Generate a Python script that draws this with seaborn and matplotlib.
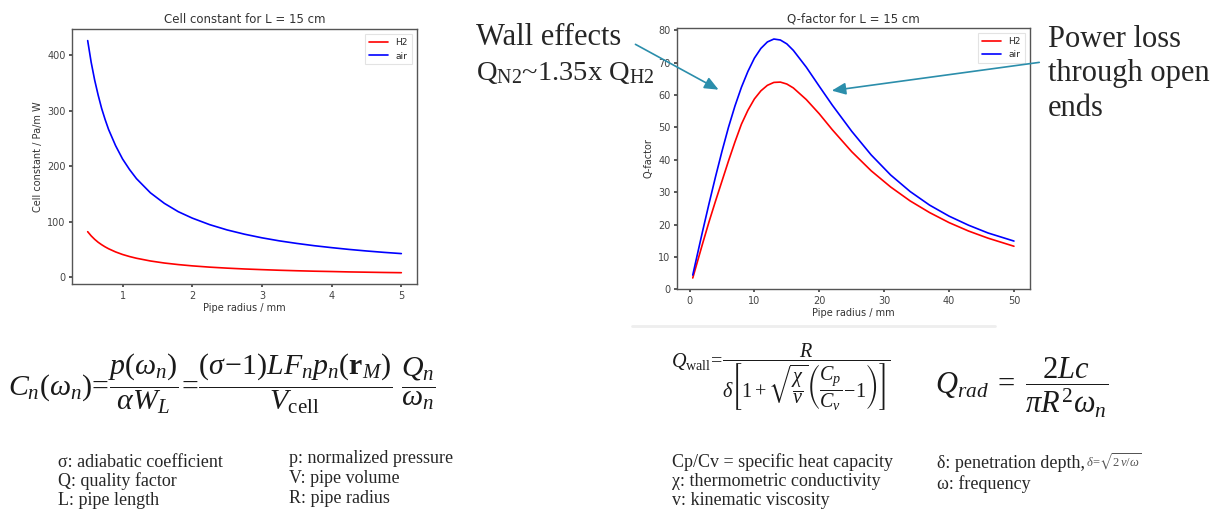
import matplotlib
matplotlib.use("Agg")
import matplotlib.pyplot as plt
import seaborn as sns

# ---------------------------------------------------------
# Values
# ---------------------------------------------------------

# left plot: cell constant vs pipe radius (mm)
radius_cell = [0.5, 0.55, 0.6, 0.65, 0.7, 0.75, 0.8, 0.9, 1.0, 1.1, 1.2, 1.4, 1.6, 1.8,
               2.0, 2.25, 2.5, 2.75, 3.0, 3.25, 3.5, 3.75, 4.0, 4.25, 4.5, 4.75, 5.0]
cell_h2 = [82, 74.5, 68.3, 63, 58.6, 54.7, 51.3, 45.6, 41, 37.3, 34.2, 29.3, 25.6, 22.8,
           20.5, 18.2, 16.4, 14.9, 13.7, 12.6, 11.7, 10.9, 10.3, 9.6, 9.1, 8.6, 8.2]
cell_air = [426, 387, 355, 328, 304, 284, 266, 237, 213, 194, 177.5, 152, 133, 118,
            106.5, 94.7, 85.2, 77.5, 71, 65.5, 60.9, 56.8, 53.3, 50.1, 47.3, 44.8, 42.6]

# right plot: Q-factor vs pipe radius (mm)
radius_q = [0.5, 1, 2, 3, 4, 5, 6, 7, 8, 9, 10, 11, 12, 13, 14, 15, 16, 18, 20,
            22, 25, 28, 31, 34, 37, 40, 43, 46, 50]
q_h2 = [3.5, 7.0, 14.0, 20.8, 27.2, 33.4, 39.6, 45.5, 51.0, 55.3, 58.8, 61.3, 63.0,
        63.9, 64.0, 63.4, 62.2, 58.6, 54.2, 49.3, 42.5, 36.6, 31.6, 27.3, 23.7,
        20.6, 18.0, 15.8, 13.3]
q_air = [4.4, 8.9, 17.8, 26.4, 34.7, 42.6, 50.0, 56.6, 62.4, 67.3, 71.4, 74.4, 76.4,
         77.3, 77.0, 75.8, 73.8, 68.6, 62.7, 56.9, 48.8, 41.5, 35.3, 30.2, 26.0,
         22.6, 19.8, 17.4, 14.9]

series_labels = ["H2", "air"]
series_colors = ["red", "blue"]

# ---------------------------------------------------------
# Style
# ---------------------------------------------------------

sns.set_theme(style="ticks")
plt.rcParams["font.family"] = ["DejaVu Sans"]
plt.rcParams["mathtext.fontset"] = "custom"
plt.rcParams["mathtext.rm"] = "Liberation Serif"
plt.rcParams["mathtext.it"] = "Liberation Serif:italic"
plt.rcParams["mathtext.bf"] = "Liberation Serif:bold"
plt.rcParams["mathtext.fallback"] = "stix"
plt.rcParams["axes.edgecolor"] = "#555555"
plt.rcParams["axes.linewidth"] = 1.0
plt.rcParams["xtick.color"] = "#444444"
plt.rcParams["ytick.color"] = "#444444"
plt.rcParams["xtick.major.size"] = 2.5
plt.rcParams["ytick.major.size"] = 2.5
plt.rcParams["xtick.labelsize"] = 7
plt.rcParams["ytick.labelsize"] = 7
plt.rcParams["axes.labelsize"] = 7
plt.rcParams["axes.labelcolor"] = "#333333"

W, H = 1227, 511
fig = plt.figure(figsize=(W / 100, H / 100), dpi=100)


def fx(px):
    return px / W


def fy(py):
    return 1 - py / H


def plot_panel(rect, x, ys, title, ylabel):
    ax = fig.add_axes(rect)
    for y, lab, col in zip(ys, series_labels, series_colors):
        sns.lineplot(x=x, y=y, color=col, label=lab, linewidth=1.2, ax=ax)
    ax.set_title(title, fontsize=8.5, color="#333333", pad=4)
    ax.set_xlabel("Pipe radius / mm", labelpad=2)
    ax.set_ylabel(ylabel, labelpad=3)
    ax.tick_params(pad=2)
    leg = ax.legend(loc="upper right", fontsize=6.5, frameon=True, fancybox=False,
                    borderaxespad=0.6, handlelength=2.2, labelspacing=0.5)
    leg.get_frame().set_edgecolor("#dddddd")
    leg.get_frame().set_linewidth(0.8)
    return ax


ax1 = plot_panel([fx(72), fy(284.3), fx(417) - fx(72), (284.3 - 29) / H],
                 radius_cell, [cell_h2, cell_air],
                 "Cell constant for L = 15 cm", "Cell constant / Pa/m W")
ax1.set_xticks([1, 2, 3, 4, 5])
ax1.set_yticks([0, 100, 200, 300, 400])

ax2 = plot_panel([fx(676.7), fy(289.3), fx(1030) - fx(676.7), (289.3 - 27.7) / H],
                 radius_q, [q_h2, q_air],
                 "Q-factor for L = 15 cm", "Q-factor")
ax2.set_ylim(0, 80.8)
ax2.set_xticks([0, 10, 20, 30, 40, 50])
ax2.set_yticks(range(0, 81, 10))

# faint separator under the right plot
fig.add_artist(plt.Line2D([fx(632), fx(995)], [fy(326), fy(326)],
                          color="#eeeeee", linewidth=2))

# ---------------------------------------------------------
# Annotations
# ---------------------------------------------------------

serif = "Liberation Serif"
teal = "#2b8eab"
big = 22

fig.text(fx(476), fy(45), "Wall effects", family=serif, fontsize=big, va="baseline")
fig.text(fx(476), fy(80), r"$\mathrm{Q_{N2}}$~1.35x $\mathrm{Q_{H2}}$",
         family=serif, fontsize=20.5, va="baseline")

for i, line in enumerate(["Power loss", "through open", "ends"]):
    fig.text(fx(1048), fy(47 + 34.5 * i), line, family=serif, fontsize=big, va="baseline")

arrow_kw = dict(arrowstyle="-|>,head_length=0.7,head_width=0.3", color=teal, lw=1.2)
fig.add_artist(matplotlib.patches.FancyArrowPatch(
    (fx(633), fy(43)), (fx(721), fy(91)), transform=fig.transFigure,
    mutation_scale=12, **arrow_kw))
fig.add_artist(matplotlib.patches.FancyArrowPatch(
    (fx(1042), fy(62)), (fx(829), fy(91)), transform=fig.transFigure,
    mutation_scale=12, **arrow_kw))

# formulas
ink = "#1a1a1a"
fig.text(fx(8), fy(396),
         r"$C_n(\omega_n)\!=\!\dfrac{p(\omega_n)}{\alpha W_L}\!=\!"
         r"\dfrac{(\sigma\!-\!1)LF_np_n(\mathbf{r}_M)}{V_{\mathrm{cell}}}\ \dfrac{Q_n}{\omega_n}$",
         fontsize=21.5, va="baseline", color=ink)

fig.text(fx(671), fy(368),
         r"$Q_{\mathrm{wall}}\!=\!\dfrac{R}{\delta\left[1+\sqrt{\dfrac{\chi}{\nu}}"
         r"\left(\dfrac{C_p}{C_v}\!-\!1\right)\right]}$",
         fontsize=14.5, va="baseline", color=ink)

fig.text(fx(935), fy(394), r"$Q_{rad}\;=\;\dfrac{2Lc}{\pi R^2\omega_n}$",
         fontsize=22, va="baseline", color=ink)

# legends of symbols
body = 13
left_col = ["σ: adiabatic coefficient", "Q: quality factor", "L: pipe length"]
mid_col = ["p: normalized pressure", "V: pipe volume", "R: pipe radius"]
right_col = ["Cp/Cv = specific heat capacity", "χ: thermometric conductivity",
             "v: kinematic viscosity"]
far_col = ["δ: penetration depth,", "ω: frequency"]

for i, s in enumerate(left_col):
    fig.text(fx(58), fy(466.7 + 19.2 * i), s, family=serif, fontsize=body, va="baseline")
for i, s in enumerate(mid_col):
    fig.text(fx(289), fy(462.7 + 20 * i), s, family=serif, fontsize=body, va="baseline")
for i, s in enumerate(right_col):
    fig.text(fx(671.7), fy(466.7 + 19.2 * i), s, family=serif, fontsize=body, va="baseline")
for i, s in enumerate(far_col):
    fig.text(fx(936.7), fy(468.3 + 21 * i), s, family=serif, fontsize=body, va="baseline")
fig.text(fx(1086), fy(467), r"$\delta\!=\!\sqrt{2\,\nu/\omega}$", fontsize=9,
         va="baseline", color="#555555")

fig.savefig("out.png", dpi=100)
